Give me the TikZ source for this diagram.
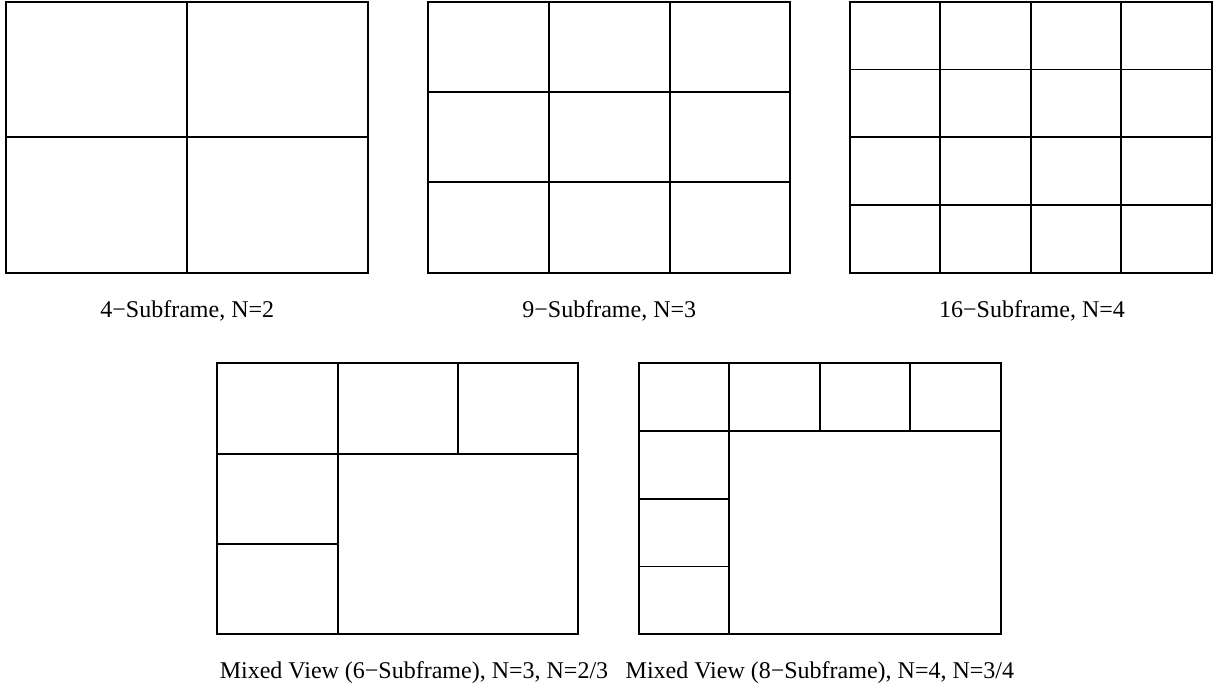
\documentclass[tikz,border=0pt]{standalone}
\usepackage{fontspec}
\setmainfont{Liberation Serif}
\begin{document}
\begin{tikzpicture}[x=1pt,y=-1pt,
  gridline/.style={line width=1.9pt, line cap=rect},
  caption/.style={font=\fontsize{24}{28}\selectfont, anchor=base, inner sep=0pt}]
\useasboundingbox (0,0) rectangle (1219,689);
% 4-Subframe
\draw[gridline] (6.3,1.7) rectangle (368.3,272.7);
\draw[gridline] (187.3,1.7) -- (187.3,272.7);
\draw[gridline] (6.3,137.2) -- (368.3,137.2);
% 9-Subframe
\draw[gridline] (428.3,1.7) rectangle (790.3,272.7);
\foreach \x in {548.9,669.6} \draw[gridline] (\x,1.7) -- (\x,272.7);
\foreach \y in {92.0,182.4} \draw[gridline] (428.3,\y) -- (790.3,\y);
% 16-Subframe
\draw[gridline] (850,1.7) rectangle (1211.7,272.7);
\foreach \x in {940.4,1030.9,1121.3} \draw[gridline] (\x,1.7) -- (\x,272.7);
\foreach \y in {69.5,137.2,205.0} \draw[gridline] (850,\y) -- (1211.7,\y);
% Mixed 6
\draw[gridline] (217.3,363.3) rectangle (578.3,634.3);
\draw[gridline] (337.7,363.3) -- (337.7,634.3);
\draw[gridline] (458.0,363.3) -- (458.0,453.6);
\draw[gridline] (217.3,453.6) -- (578.3,453.6);
\draw[gridline] (217.3,544.0) -- (337.7,544.0);
% Mixed 8
\draw[gridline] (639,363.3) rectangle (1000.7,634.3);
\draw[gridline] (729.4,363.3) -- (729.4,634.3);
\foreach \x in {819.9,910.3} \draw[gridline] (\x,363.3) -- (\x,431.0);
\draw[gridline] (639,431.0) -- (1000.7,431.0);
\foreach \y in {498.8,566.5} \draw[gridline] (639,\y) -- (729.4,\y);
% captions
\node[caption] (c1) at (187.3,317) {4−Subframe, N=2};
\node[caption] (c2) at (609.3,317) {9−Subframe, N=3};
\node[caption] (c3) at (1032,317) {16−Subframe, N=4};
\node[caption] (c4) at (414,678) {Mixed View (6−Subframe), N=3, N=2/3};
\node[caption] (c5) at (819.9,678) {Mixed View (8−Subframe), N=4, N=3/4};
\end{tikzpicture}
\end{document}
